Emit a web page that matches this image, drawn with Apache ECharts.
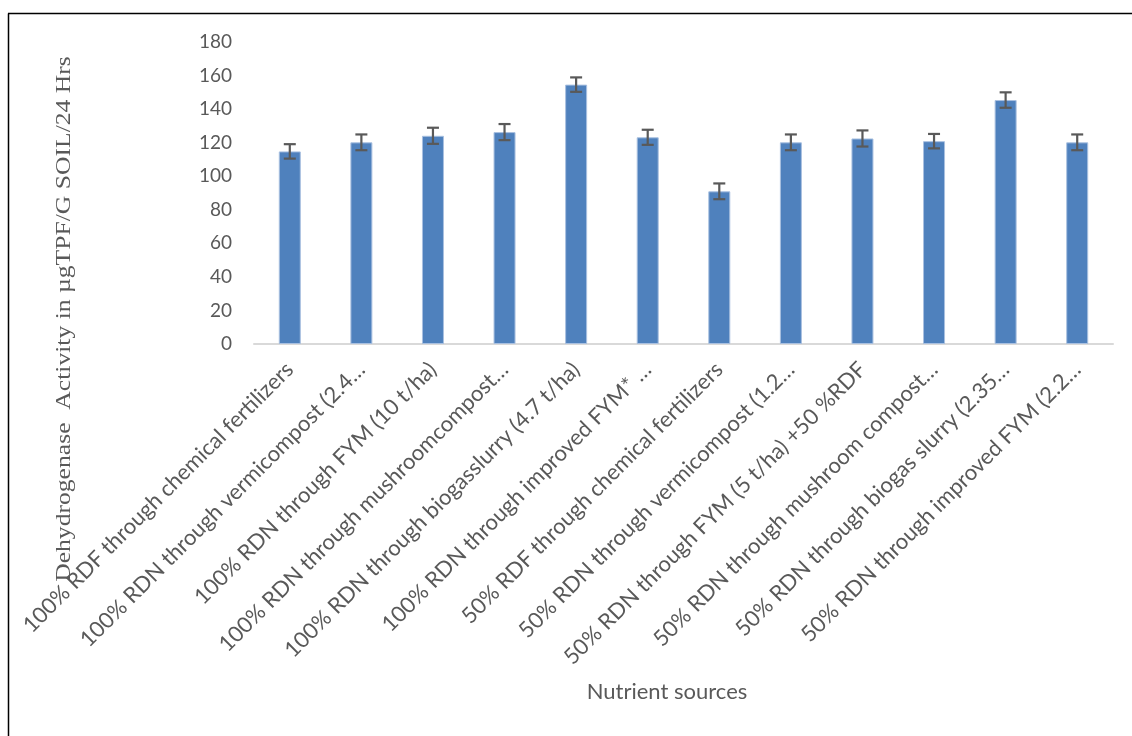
<!DOCTYPE html>
<html>
<head>
<meta charset="utf-8">
<script src="https://cdn.jsdelivr.net/npm/echarts@6/dist/echarts.min.js"></script>
<style>
html,body{margin:0;padding:0;background:#fff;}
#chart{width:1132px;height:736px;}
</style>
</head>
<body>
<div id="chart"></div>
<script>
const categories = [
  "100% RDF through chemical fertilizers",
  "100% RDN through vermicompost (2.4…",
  "100% RDN through FYM (10 t/ha)",
  "100% RDN through mushroomcompost…",
  "100% RDN through biogasslurry (4.7 t/ha)",
  "100% RDN through improved FYM* …",
  "50% RDF through chemical fertilizers",
  "50% RDN through vermicompost (1.2…",
  "50% RDN through FYM (5 t/ha) +50 %RDF",
  "50% RDN through mushroom compost…",
  "50% RDN through biogas slurry (2.35…",
  "50% RDN through improved FYM (2.2…"
];
const values = [114.8, 120.2, 124.1, 126.3, 154.6, 123.2, 91.0, 120.2, 122.5, 120.9, 145.4, 120.2];
const errors = [4.3, 4.7, 4.8, 4.8, 4.3, 4.5, 4.7, 4.7, 4.8, 4.3, 4.6, 4.7];
const yTicks = { min: 0, max: 180, interval: 20 };
const yTitle = "Dehydrogenase  Activity in µgTPF/G SOIL/24 Hrs";
const xTitle = "Nutrient sources";

const chart = echarts.init(document.getElementById('chart'), null, {renderer: 'canvas'});
const labelFont = 'Lato, "Open Sans", sans-serif';
const option = {
  animation: false,
  backgroundColor: '#ffffff',
  grid: { left: 254, right: 19, top: 42, bottom: 392, containLabel: false },
  xAxis: {
    type: 'category',
    data: categories,
    axisLine: { show: true, lineStyle: { color: '#d9d9d9', width: 2 } },
    axisTick: { show: false },
    axisLabel: {
      rotate: 45,
      interval: 0,
      margin: 22,
      color: '#595959',
      fontSize: 22,
      fontFamily: labelFont
    }
  },
  yAxis: {
    type: 'value',
    min: yTicks.min,
    max: yTicks.max,
    interval: yTicks.interval,
    axisLine: { show: false },
    axisTick: { show: false },
    splitLine: { show: false },
    axisLabel: { color: '#595959', fontSize: 19, margin: 22, fontFamily: labelFont }
  },
  graphic: [
    { type: 'line', shape: { x1: 8.5, y1: 13.5, x2: 8.5, y2: 736 }, style: { stroke: '#000', lineWidth: 1.5 } },
    { type: 'line', shape: { x1: 8, y1: 13.5, x2: 1132, y2: 13.5 }, style: { stroke: '#000', lineWidth: 1.5 } },
    {
      type: 'text',
      x: 64, y: 319,
      rotation: Math.PI / 2,
      scaleX: 1.22,
      style: {
        text: yTitle,
        fill: '#595959',
        font: '21px "Liberation Serif", "DejaVu Serif", serif',
        textAlign: 'center',
        textVerticalAlign: 'middle'
      }
    },
    {
      type: 'text',
      x: 667, y: 692,
      style: {
        text: xTitle,
        fill: '#595959',
        font: '22px ' + labelFont,
        textAlign: 'center',
        textVerticalAlign: 'middle'
      }
    }
  ],
  series: [
    {
      type: 'bar',
      data: values,
      barWidth: 22,
      itemStyle: { color: '#4f81bd', borderColor: '#a9c0e0', borderWidth: 1 }
    },
    {
      type: 'custom',
      data: values.map((v, i) => [i, v - errors[i], v + errors[i]]),
      renderItem: function (params, api) {
        const x = api.value(0);
        const lo = api.coord([x, api.value(1)]);
        const hi = api.coord([x, api.value(2)]);
        const cap = 6;
        const style = { stroke: '#595959', lineWidth: 2.2 };
        return {
          type: 'group',
          children: [
            { type: 'line', shape: { x1: lo[0], y1: lo[1], x2: hi[0], y2: hi[1] }, style: style },
            { type: 'line', shape: { x1: lo[0] - cap, y1: lo[1], x2: lo[0] + cap, y2: lo[1] }, style: style },
            { type: 'line', shape: { x1: hi[0] - cap, y1: hi[1], x2: hi[0] + cap, y2: hi[1] }, style: style }
          ]
        };
      },
      z: 10
    }
  ]
};
chart.setOption(option);
</script>
</body>
</html>
